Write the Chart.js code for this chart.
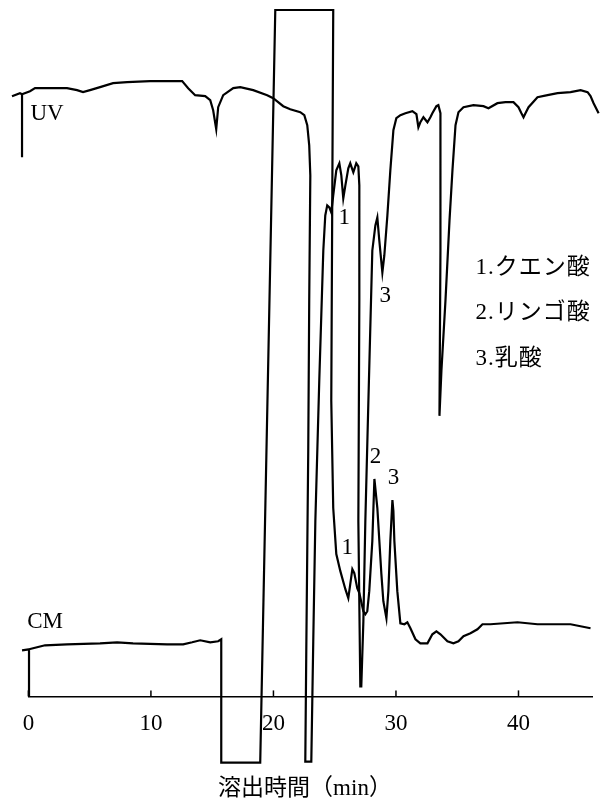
<!DOCTYPE html>
<html>
<head>
<meta charset="utf-8">
<script src="https://cdn.jsdelivr.net/npm/chart.js@4.4.1/dist/chart.umd.min.js"></script>
<style>
  html, body { margin: 0; padding: 0; background: #fff; }
  #wrap { width: 601px; height: 801px; }
</style>
</head>
<body>
<div id="wrap"><canvas id="chromChart" width="601" height="801"></canvas></div>
<script>
// elution time (min) and detector signal (arbitrary units)
const uvTime = [-1.34, -0.69, -0.52, -0.52, -0.52, 0.13, 0.54, 1.19, 3.15, 3.97, 4.46, 5.03, 5.85, 6.91, 8.06, 9.93, 11.81, 12.55,
  13.04, 13.61, 14.43, 14.84, 15.08, 15.33, 15.49, 15.90, 16.72, 17.29, 18.35, 19.49, 19.98, 20.80, 21.37, 22.19, 22.52, 22.76,
  22.92, 23.01, 22.92, 22.84, 22.76, 22.68, 22.60, 23.09, 23.17, 23.25, 23.42, 23.74, 24.07, 24.23, 24.39, 24.56, 24.72, 24.88,
  25.13, 25.38, 25.54, 25.70, 25.87, 26.11, 26.27, 26.52, 26.76, 26.93, 27.01, 27.01, 26.93, 27.09, 27.17, 27.34, 27.50, 27.75,
  28.07, 28.32, 28.48, 28.64, 28.89, 29.05, 29.30, 29.54, 29.79, 30.03, 30.36, 30.77, 31.34, 31.67, 31.83, 31.99, 32.24, 32.57,
  32.81, 32.97, 33.30, 33.46, 33.63, 33.63, 33.55, 33.71, 34.04, 34.37, 34.61, 34.86, 35.10, 35.51, 36.32, 37.14, 37.55, 38.28,
  38.94, 39.59, 40.00, 40.24, 40.41, 40.57, 40.82, 41.55, 42.37, 43.19, 44.25, 45.07, 45.64, 45.88, 46.13, 46.54];
const uvSignal = [59.9, 60.2, 60.1, 53.8, 60.1, 60.4, 60.7, 60.7, 60.7, 60.5, 60.3, 60.5, 60.8, 61.2, 61.3, 61.4, 61.4, 61.4,
  60.7, 60.0, 59.9, 59.5, 58.5, 56.6, 58.8, 60.0, 60.7, 60.8, 60.5, 60.0, 59.7, 58.9, 58.6, 58.3, 58.0, 57.0,
  55.0, 52.0, 39.5, 24.5, 14.5, 4.5, -6.5, -6.5, -0.5, 5.5, 17.5, 31.5, 44.5, 48.0, 49.0, 48.8, 48.3, 50.0,
  52.5, 53.2, 52.0, 49.7, 51.0, 52.7, 53.2, 52.3, 53.2, 52.9, 51.0, 39.5, 17.5, 1.0, 1.0, 7.5, 17.5, 29.5,
  44.5, 47.0, 47.8, 45.5, 42.3, 44.0, 48.0, 52.5, 56.5, 57.7, 58.0, 58.2, 58.4, 58.1, 56.8, 57.3, 57.8, 57.3,
  57.8, 58.2, 58.9, 59.0, 58.2, 44.5, 28.0, 32.5, 39.5, 47.5, 52.5, 57.0, 58.3, 58.8, 59.0, 58.9, 58.7, 59.2,
  59.3, 59.3, 58.8, 58.2, 57.8, 58.2, 58.8, 59.8, 60.0, 60.2, 60.3, 60.5, 60.3, 59.9, 59.2, 58.2];

const cmTime = [-0.52, 0.05, 0.05, 0.05, 0.38, 1.36, 3.15, 5.85, 7.24, 8.54, 11.32, 12.63, 13.37, 14.02, 14.84, 15.49, 15.74,
  15.74, 18.92, 20.15, 24.88, 24.80, 24.72, 24.88, 25.13, 25.46, 25.87, 26.11, 26.27, 26.44, 26.60, 26.84, 27.01, 27.34, 27.50,
  27.66, 27.82, 28.07, 28.24, 28.48, 28.81, 28.97, 29.22, 29.38, 29.54, 29.71, 29.79, 29.87, 30.11, 30.36, 30.69, 30.93, 31.18,
  31.59, 31.99, 32.57, 32.97, 33.30, 33.63, 34.20, 34.69, 35.10, 35.51, 36.08, 36.65, 37.06, 37.71, 39.92, 41.55, 44.25, 45.88];
const cmSignal = [4.6, 4.7, 0.0, 4.7, 4.8, 5.1, 5.2, 5.3, 5.4, 5.3, 5.2, 5.2, 5.4, 5.6, 5.4, 5.5, 5.7,
  -6.6, -6.6, 68.5, 68.5, 49.5, 29.5, 18.8, 14.2, 12.5, 10.7, 9.8, 11.2, 12.7, 12.3, 10.8, 10.3, 8.5, 8.2,
  8.5, 10.5, 15.5, 21.7, 18.8, 12.2, 9.5, 7.8, 10.5, 15.5, 19.6, 18.5, 15.5, 10.5, 7.3, 7.2, 7.4, 6.8,
  5.7, 5.3, 5.3, 6.2, 6.5, 6.2, 5.5, 5.3, 5.5, 6.0, 6.3, 6.7, 7.2, 7.2, 7.4, 7.2, 7.2, 6.8];

const timeTicks = [0, 10, 20, 30, 40];
const compounds = ['1.クエン酸', '2.リンゴ酸', '3.乳酸'];

const serif = '"Liberation Serif", "Noto Sans CJK JP", serif';

function toPoints(xs, ys) {
  return xs.map((x, i) => ({ x, y: ys[i] }));
}

// labels, ticks and the axis title drawn on top of the plot
const textPlugin = {
  id: 'chromText',
  afterDraw(chart) {
    const { ctx, scales: { x, y } } = chart;
    ctx.save();
    ctx.strokeStyle = '#000';
    ctx.lineWidth = 1.5;
    timeTicks.forEach(v => {
      const px = x.getPixelForValue(v);
      ctx.beginPath();
      ctx.moveTo(px, y.bottom);
      ctx.lineTo(px, y.bottom - 6);
      ctx.stroke();
    });

    ctx.fillStyle = '#000';
    ctx.font = '23px ' + serif;
    ctx.textBaseline = 'middle';
    ctx.textAlign = 'center';
    const put = (txt, t, s) => ctx.fillText(txt, x.getPixelForValue(t), y.getPixelForValue(s));
    put('UV', 1.52, 58.1);
    put('CM', 1.36, 7.4);
    put('1', 25.78, 47.7);
    put('3', 29.13, 40.0);
    put('1', 26.03, 14.8);
    put('2', 28.32, 23.9);
    put('3', 29.79, 21.8);

    ctx.textAlign = 'left';
    ctx.letterSpacing = '1px';
    compounds.forEach((c, i) => {
      ctx.fillText(c, x.getPixelForValue(36.5), y.getPixelForValue(42.8 - i * 4.55));
    });

    ctx.textAlign = 'center';
    ctx.letterSpacing = '0px';
    ctx.font = '23px ' + serif;
    ctx.fillText('溶出時間（min）', 305, 789);
    ctx.restore();
  }
};

new Chart(document.getElementById('chromChart').getContext('2d'), {
  type: 'line',
  data: {
    datasets: [
      { label: 'UV', data: toPoints(uvTime, uvSignal) },
      { label: 'CM', data: toPoints(cmTime, cmSignal) }
    ]
  },
  options: {
    responsive: false,
    animation: false,
    clip: false,
    layout: { padding: { left: 28.4, right: 9, top: 10, bottom: 49 } },
    elements: {
      line: { borderColor: '#000', borderWidth: 2.2, tension: 0, fill: false, borderJoinStyle: 'miter' },
      point: { radius: 0, hoverRadius: 0 }
    },
    datasets: { line: { clip: false } },
    plugins: { legend: { display: false }, tooltip: { enabled: false } },
    scales: {
      x: {
        type: 'linear',
        min: 0,
        max: 46,
        afterBuildTicks: s => { s.ticks = timeTicks.map(v => ({ value: v })); },
        ticks: { color: '#000', font: { family: serif, size: 23 }, padding: 14, maxRotation: 0 },
        grid: { drawOnChartArea: false, drawTicks: false },
        border: { color: '#000', width: 1.5 }
      },
      y: { display: false, min: 0, max: 68.5 }
    }
  },
  plugins: [textPlugin]
});
</script>
</body>
</html>
